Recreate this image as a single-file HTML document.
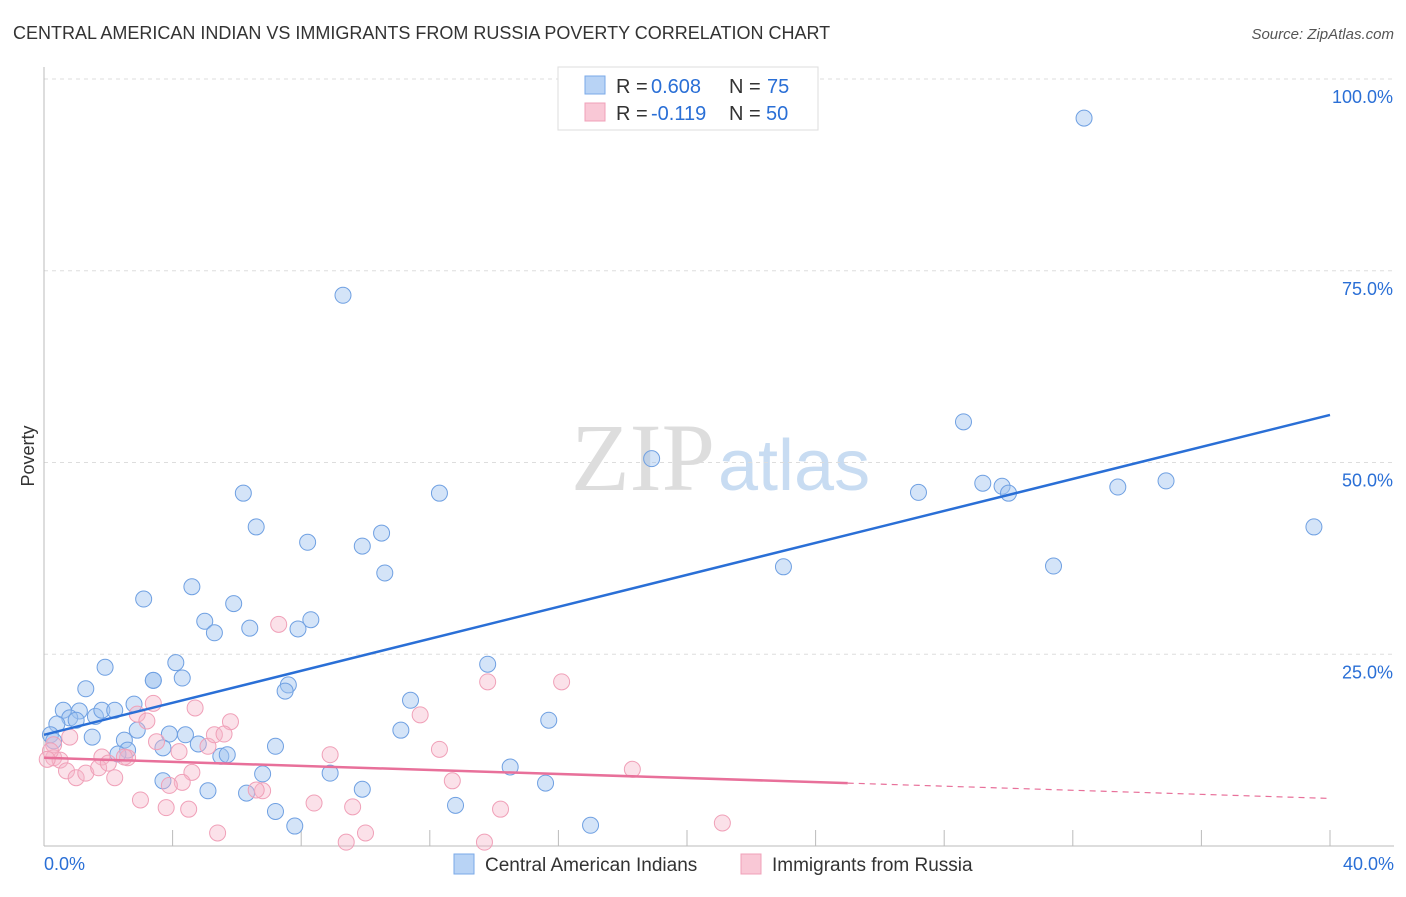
<!DOCTYPE html>
<html><head><meta charset="utf-8"><style>
body{margin:0;background:#fff;font-family:"Liberation Sans",sans-serif;}
</style></head><body>
<svg width="1406" height="892" viewBox="0 0 1406 892" xmlns="http://www.w3.org/2000/svg">
<text x="13" y="39" font-size="18" fill="#333">CENTRAL AMERICAN INDIAN VS IMMIGRANTS FROM RUSSIA POVERTY CORRELATION CHART</text>
<text x="1394" y="39" font-size="15" fill="#555" font-style="italic" text-anchor="end">Source: ZipAtlas.com</text>
<text x="715" y="490" font-size="96" fill="#ddd" text-anchor="end" font-family="Liberation Serif,serif">ZIP</text>
<text x="718" y="490" font-size="72" fill="#c8dcf2">atlas</text>
<g id="grid"></g>
<g id="axes"></g>
<g id="marks"></g>
<text x="34" y="456" font-size="18" fill="#333" transform="rotate(-90 34 456)" text-anchor="middle">Poverty</text>
<g>
<rect x="558" y="67" width="260" height="63" fill="#fff" stroke="#ddd"/>
<rect x="585" y="76" width="20" height="18" fill="#b8d3f5" stroke="#7aaae8"/>
<text x="616" y="93" font-size="20" fill="#333">R =</text>
<text x="651" y="93" font-size="20" fill="#2a6fd6">0.608</text>
<text x="729" y="93" font-size="20" fill="#333">N =</text>
<text x="767" y="93" font-size="20" fill="#2a6fd6">75</text>
<rect x="585" y="103" width="20" height="18" fill="#f9c8d6" stroke="#f0a0b8"/>
<text x="616" y="120" font-size="20" fill="#333">R =</text>
<text x="651" y="120" font-size="20" fill="#2a6fd6">-0.119</text>
<text x="729" y="120" font-size="20" fill="#333">N =</text>
<text x="766" y="120" font-size="20" fill="#2a6fd6">50</text>
</g>
<g>
<rect x="454" y="854" width="20" height="20" fill="#b8d3f5" stroke="#7aaae8"/>
<text x="485" y="871" font-size="19" fill="#333">Central American Indians</text>
<rect x="741" y="854" width="20" height="20" fill="#f9c8d6" stroke="#f0a0b8"/>
<text x="772" y="871" font-size="19" fill="#333">Immigrants from Russia</text>
</g>
</svg>
<script>
const yTicks=[25,50,75,100];
const yTickLabels=["25.0%","50.0%","75.0%","100.0%"];
const xTickLabels=["0.0%","40.0%"];
const blueX=[32.35,9.3,28.6,18.9,29.2,29.8,30.0,33.4,34.9,27.2,6.2,12.3,39.5,6.6,8.2,9.9,10.5,10.6,23.0,31.4,3.1,4.6,5.9,5.0,5.3,6.4,7.9,8.3,1.9,4.1,3.4,3.4,4.3,7.6,7.5,13.8,1.3,0.6,1.1,0.8,1.0,1.6,1.8,2.2,2.8,2.9,0.4,0.2,0.3,1.5,2.5,11.4,15.7,11.1,3.9,4.4,4.8,3.7,2.6,2.3,5.5,5.7,7.2,6.8,8.9,14.5,15.6,3.7,5.1,6.3,9.9,12.8,7.2,7.8,17.0];
const blueY=[94.9,71.8,55.3,50.5,47.3,46.9,46.0,46.8,47.6,46.1,46.0,46.0,41.6,41.6,39.6,39.1,40.8,35.6,36.4,36.5,32.2,33.8,31.6,29.3,27.8,28.4,28.3,29.5,23.3,23.9,21.6,21.6,21.9,21.0,20.2,23.7,20.5,17.7,17.6,16.7,16.4,16.9,17.7,17.7,18.5,15.1,15.9,14.5,13.7,14.2,13.8,19.0,16.4,15.1,14.6,14.5,13.3,12.8,12.5,12.0,11.7,11.9,13.0,9.4,9.5,10.3,8.2,8.5,7.2,6.9,7.4,5.3,4.5,2.6,2.7];
const pinkX=[7.3,3.4,4.7,2.9,3.2,5.8,11.7,13.8,16.1,0.8,0.3,0.3,0.5,1.8,2.6,4.2,3.5,5.1,5.3,5.6,8.9,12.3,0.7,1.0,1.3,1.7,2.0,2.5,4.6,2.2,4.3,3.9,3.0,6.8,6.6,12.7,18.3,8.4,9.6,3.8,4.5,14.2,5.4,21.1,9.4,10.0,13.7,0.2,0.1];
const pinkY=[28.9,18.6,18.0,17.2,16.3,16.2,17.1,21.4,21.4,14.2,13.2,11.5,11.2,11.6,11.5,12.3,13.6,13.0,14.5,14.6,11.9,12.6,9.8,8.9,9.5,10.2,10.8,11.6,9.6,8.9,8.3,7.9,6.0,7.2,7.3,8.5,10.0,5.6,5.1,5.0,4.8,4.8,1.7,3.0,0.5,1.7,0.5,12.4,11.3];
const blueTrend=[0,14.5,40,56.2];
const pinkTrend=[0,11.5,25,8.2,40,6.2];
const L=44,R=1330,B=846,T=79;
const sx=v=>L+(R-L)*v/40, sy=v=>B-(B-T)*v/100;
const NS="http://www.w3.org/2000/svg";
function mk(tag,attrs,parent){const e=document.createElementNS(NS,tag);for(const k in attrs)e.setAttribute(k,attrs[k]);document.getElementById(parent).appendChild(e);return e;}
yTicks.forEach((t,i)=>{
 const g=mk('line',{x1:L,x2:1394,y1:sy(t),y2:sy(t),stroke:'#ddd','stroke-dasharray':'4,4'},'grid');
 
 
 const tx=mk('text',{x:1393,y:sy(t)+24,'font-size':18,fill:'#2a6fd6','text-anchor':'end'},'grid');
 tx.textContent=yTickLabels[i];
 
 
});
const ax=mk('line',{x1:L,x2:L,y1:67,y2:B,stroke:'#bbb'},'axes');


const bx=mk('line',{x1:L,x2:1394,y1:B,y2:B,stroke:'#bbb'},'axes');


for(let i=1;i<=10;i++){const tk=mk('line',{x1:sx(i*4),x2:sx(i*4),y1:830,y2:B,stroke:'#bbb'},'axes');
 
 }
[[0,'start',44],[40,'end',1394]].forEach((a,i)=>{const t=mk('text',{x:a[2],y:870,'font-size':18,fill:'#2a6fd6','text-anchor':a[1]},'axes');t.textContent=xTickLabels[i];
 
 });
blueX.forEach((x,i)=>{const c=mk('circle',{cx:sx(x),cy:sy(blueY[i]),r:8,fill:'rgba(160,196,240,0.45)',stroke:'#6fa0e2','stroke-width':1},'marks');
 
 });
pinkX.forEach((x,i)=>{const c=mk('circle',{cx:sx(x),cy:sy(pinkY[i]),r:8,fill:'rgba(245,180,200,0.4)',stroke:'#f0a0b8','stroke-width':1},'marks');
 
 });
const bl=mk('line',{x1:sx(blueTrend[0]),y1:sy(blueTrend[1]),x2:sx(blueTrend[2]),y2:sy(blueTrend[3]),stroke:'#2a6fd6','stroke-width':2.5},'marks');


const pl=mk('line',{x1:sx(pinkTrend[0]),y1:sy(pinkTrend[1]),x2:sx(pinkTrend[2]),y2:sy(pinkTrend[3]),stroke:'#e8709a','stroke-width':2.5},'marks');


const pd=mk('line',{x1:sx(pinkTrend[2]),y1:sy(pinkTrend[3]),x2:sx(pinkTrend[4]),y2:sy(pinkTrend[5]),stroke:'#e8709a','stroke-width':1.2,'stroke-dasharray':'6,5'},'marks');


</script>
</body></html>
